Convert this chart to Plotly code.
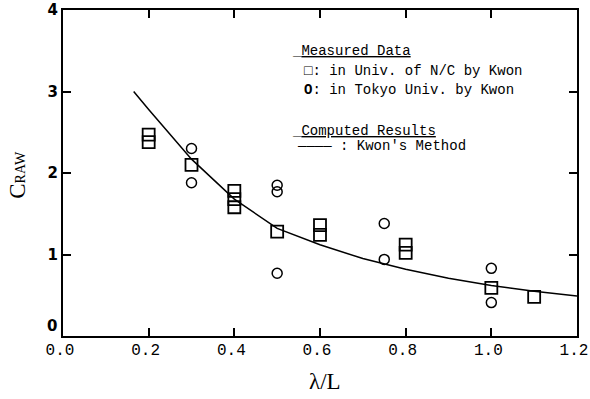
import plotly.graph_objects as go

# Measured data: Univ. of N/C (squares)
nc_x = [0.2, 0.2, 0.3, 0.4, 0.4, 0.4, 0.5, 0.6, 0.6, 0.8, 0.8, 1.0, 1.1]
nc_y = [2.47, 2.38, 2.10, 1.78, 1.68, 1.58, 1.28, 1.36, 1.24, 1.12, 1.02, 0.59, 0.48]

# Measured data: Tokyo Univ. (circles)
tk_x = [0.3, 0.3, 0.5, 0.5, 0.5, 0.75, 0.75, 1.0, 1.0]
tk_y = [2.30, 1.88, 1.85, 1.77, 0.77, 1.38, 0.94, 0.83, 0.41]

# Computed results: Kwon's method
curve_x = [0.165, 0.2, 0.3, 0.4, 0.5, 0.6, 0.7, 0.8, 0.9, 1.0, 1.1, 1.2]
curve_y = [3.00, 2.78, 2.17, 1.68, 1.32, 1.12, 0.95, 0.82, 0.71, 0.62, 0.55, 0.49]

x_ticks = [0.0, 0.2, 0.4, 0.6, 0.8, 1.0, 1.2]
x_tick_labels = ["0.0", "0.2", "0.4", "0.6", "0.8", "1.0", "1.2"]
y_ticks = [0, 1, 2, 3, 4]
y_tick_labels = ["0", "1", "2", "3", "4"]

fig = go.Figure()
fig.add_trace(go.Scatter(x=curve_x, y=curve_y, mode="lines",
                         line=dict(color="black", width=1.5), showlegend=False))
fig.add_trace(go.Scatter(x=nc_x, y=nc_y, mode="markers",
                         marker=dict(symbol="square-open", size=12, color="black",
                                     line=dict(width=1.8, color="black")),
                         showlegend=False))
fig.add_trace(go.Scatter(x=tk_x, y=tk_y, mode="markers",
                         marker=dict(symbol="circle-open", size=10, color="black",
                                     line=dict(width=1.5, color="black")),
                         showlegend=False))

mono = dict(family="Liberation Mono", size=14, color="black")
legend_lines = [
    ("_<u>Measured Data</u>", 0.530, 3.50),
    ("<b>□</b>: in Univ. of N/C by Kwon", 0.558, 3.25),
    ("<b>O</b>: in Tokyo Univ. by Kwon", 0.558, 3.02),
    ("_<u>Computed Results</u>", 0.530, 2.52),
    ("———— : Kwon's Method", 0.542, 2.33),
]
for txt, xv, yv in legend_lines:
    fig.add_annotation(x=xv, y=yv, xref="x", yref="y", text=txt, showarrow=False,
                       xanchor="left", yanchor="middle", font=mono)

ytick_font = dict(family="DejaVu Sans", size=15, color="black", weight="bold")
# the "0" label of the y axis sits a little above the corner in the original
fig.add_annotation(x=0, y=y_ticks[0], xref="paper", yref="y", text=y_tick_labels[0],
                   showarrow=False, xanchor="right", yanchor="middle",
                   xshift=-4, yshift=10, font=ytick_font)

# Axis titles
fig.add_annotation(x=0.51, y=-0.185, xref="paper", yref="paper", text="λ/L",
                   showarrow=False, xanchor="center", yanchor="bottom",
                   font=dict(family="Liberation Serif", size=23, color="black"))
fig.add_annotation(x=-0.088, y=0.494, xref="paper", yref="paper",
                   text="C<span style='font-size:14px'>RAW</span>", textangle=-90,
                   showarrow=False, xanchor="center", yanchor="middle",
                   font=dict(family="Liberation Serif", size=23, color="black"))

axis_common = dict(showline=True, linewidth=2, linecolor="black", mirror="ticks",
                   ticks="inside", ticklen=8, tickwidth=1.5, tickcolor="black",
                   showgrid=False, zeroline=False, automargin=False)

fig.update_xaxes(range=[0, 1.2], tickvals=x_ticks, ticktext=x_tick_labels,
                 tickfont=dict(family="Liberation Mono", size=16, color="black"),
                 ticklabeloverflow="allow", ticklabelshift=-3, ticklabelstandoff=-2,
                 **axis_common)
fig.update_yaxes(range=[0, 4], tickvals=y_ticks,
                 ticktext=[""] + y_tick_labels[1:],
                 tickfont=ytick_font,
                 **axis_common)

fig.update_layout(width=590, height=399, margin=dict(l=63, r=13, t=10, b=63),
                  plot_bgcolor="white", paper_bgcolor="white")

fig.write_html("out.html")
